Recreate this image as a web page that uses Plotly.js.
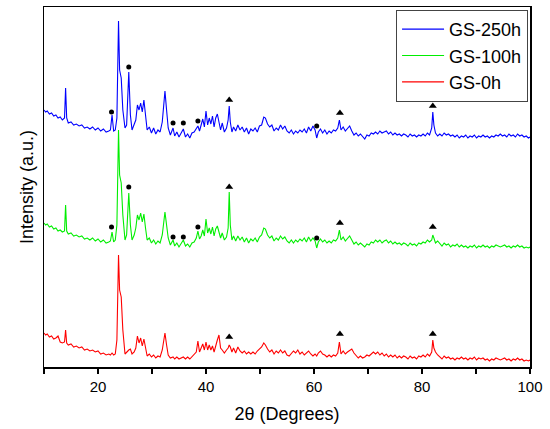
<!DOCTYPE html>
<html>
<head>
<meta charset="utf-8">
<script src="https://cdn.plot.ly/plotly-3.0.1.min.js"></script>
<style>html,body{margin:0;padding:0;background:#fff;}#chart{width:550px;height:429px;}</style>
</head>
<body>
<div id="chart"></div>
<script>
// 2θ (degrees), shared by all three patterns
const twoTheta = [
  10,10.3,10.6,11,11.4,11.8,12.2,12.6,13,13.4,
  13.8,14.0,14.2,14.5,15,15.5,16,16.5,17,17.5,
  18,18.5,19,19.5,20,20.5,21,21.5,22,22.3,
  22.6,22.9,23.2,23.5,23.8,24.0,24.3,24.6,25.0,25.3,
  25.7,26.0,26.3,26.7,27.0,27.3,27.6,27.9,28.2,28.5,
  28.8,29.1,29.5,29.9,30.3,30.7,31.1,31.5,31.9,32.2,
  32.4,32.7,33.0,33.4,33.9,34.2,34.6,35.0,35.4,35.8,
  36.2,36.6,37.0,37.4,37.8,38.2,38.5,38.8,39.1,39.4,
  39.7,40.0,40.3,40.6,40.9,41.2,41.5,41.8,42.1,42.4,
  42.7,43.0,43.4,43.8,44.1,44.3,44.5,44.8,45.1,45.5,
  45.9,46.3,46.7,47.1,47.5,47.9,48.3,48.7,49.1,49.5,
  49.9,50.3,50.7,51.0,51.4,51.8,52.2,52.6,53.0,53.4,
  53.8,54.2,54.6,55.0,55.4,55.8,56.2,56.6,57.0,57.4,
  57.8,58.2,58.6,59.0,59.4,59.8,60.2,60.5,60.8,61.2,
  61.6,62.0,62.4,62.8,63.2,63.6,64.0,64.4,64.7,65.0,
  65.4,65.8,66.2,66.6,67.0,67.4,67.8,68.2,68.6,69.0,
  69.4,69.8,70.2,70.6,71.0,71.4,71.8,72.2,72.6,73.0,
  73.4,73.8,74.2,74.6,75.0,75.4,75.8,76.2,76.6,77.0,
  77.4,77.8,78.2,78.6,79.0,79.4,79.8,80.2,80.6,81.0,
  81.4,81.8,82.0,82.2,82.5,82.9,
  83.3,83.7,84.1,84.5,84.9,85.3,85.7,86.1,86.5,86.9,
  87.3,87.7,88.1,88.5,88.9,89.3,89.7,90.1,90.5,90.9,
  91.3,91.7,92.1,92.5,92.9,93.3,93.7,94.1,94.5,94.9,
  95.3,95.7,96.1,96.5,96.9,97.3,97.7,98.1,98.5,98.9,
  99.3,99.7,100
];

const gs250h = [
  257,255,256,253,254,251,252,249,250,247,
  249,279,249,244,245,242,243,241,242,239,
  240,238,240,237,239,236,238,235,236,237,
  252,236,237,249,346,297,289,257,239,242,
  295,252,237,242,247,262,257,264,255,267,
  249,237,240,234,239,233,237,235,245,267,
  276,257,239,232,239,231,235,230,234,238,
  230,233,229,234,235,239,241,236,242,248,
  240,256,242,249,243,251,240,249,253,243,
  237,244,235,239,247,261,245,235,240,236,
  242,237,240,235,239,233,238,236,239,235,
  241,242,250,249,243,240,242,236,239,237,
  242,238,241,236,234,237,233,236,234,237,
  235,238,234,240,236,241,237,229,235,238,
  234,237,233,236,234,237,236,239,247,237,
  240,236,238,241,236,232,234,231,233,230,
  228,232,231,234,233,235,233,236,234,235,
  236,233,235,232,234,232,233,231,233,232,
  230,233,231,232,230,232,231,233,231,234,
  232,239,255,242,234,231,
  233,231,234,232,233,231,232,230,232,229,
  231,230,232,229,231,230,232,229,231,230,
  232,230,231,229,231,230,232,231,233,231,
  232,230,233,231,232,230,233,231,232,230,
  231,229,230
];

const gs100h = [
  144,142,143,140,141,138,139,136,137,135,
  136,162,136,133,134,131,132,130,131,128,
  129,127,129,126,128,125,127,124,125,126,
  135,125,127,142,237,192,184,152,127,132,
  174,142,127,132,139,152,147,154,145,153,
  139,127,129,124,127,123,126,124,132,149,
  155,142,129,122,127,121,124,120,123,127,
  121,123,120,124,125,129,136,128,131,137,
  131,148,134,139,133,140,131,138,141,134,
  129,134,127,130,139,175,142,127,131,126,
  131,127,130,125,129,124,128,126,129,125,
  130,132,139,138,132,129,131,126,129,127,
  131,128,130,126,124,127,124,127,125,128,
  126,129,125,130,126,129,126,119,125,128,
  125,127,124,126,124,127,126,129,137,127,
  130,126,128,131,127,123,125,122,124,122,
  120,123,122,125,124,127,125,127,124,126,
  127,124,126,123,125,123,124,122,124,123,
  121,124,122,123,121,124,123,125,124,127,
  125,127,132,129,124,126,
  123,121,124,122,123,120,122,121,123,120,
  122,120,121,119,121,120,122,119,121,120,
  122,120,121,119,121,120,122,121,120,121,
  122,120,121,119,121,120,122,120,121,119,
  120,119,120
];

const gs0h = [
  34,32,33,30,31,28,29,31,25,24,
  25,37,24,22,23,20,21,19,20,17,
  18,16,17,15,16,13,14,12,13,12,
  14,12,13,27,112,77,70,37,13,15,
  17,18,13,15,19,31,24,29,21,28,
  19,11,13,10,12,9,11,10,17,30,
  34,22,12,9,10,8,10,8,9,10,
  8,10,8,10,12,15,26,15,19,23,
  17,25,17,22,17,21,15,22,27,32,
  19,17,14,17,19,22,20,15,19,14,
  20,16,14,16,13,15,13,15,13,16,
  18,20,24,22,18,15,17,13,16,14,
  17,14,16,12,11,14,16,14,17,13,
  15,12,14,16,13,11,13,11,14,16,
  13,12,10,12,10,12,11,14,25,13,
  16,13,15,17,18,14,11,9,11,9,
  10,12,11,13,15,13,15,12,14,11,
  13,10,12,10,12,9,11,9,11,10,
  8,11,9,10,8,11,10,12,10,13,
  11,15,27,19,15,12,
  10,8,11,9,10,8,9,7,9,8,
  10,8,9,7,9,8,10,7,9,8,
  9,7,8,6,8,7,9,8,7,8,
  9,7,8,6,8,7,9,7,8,6,
  7,6,7
];

// Phase markers: dots (●) and triangles (▲)
const dotX = [22.5, 25.7, 33.9, 35.8, 38.5, 60.5,   22.5, 25.7, 33.9, 35.8, 38.5, 60.5];
const dotY = [255, 300, 244, 244, 246, 241,          140, 180, 130, 130, 140, 129];
const triX = [44.3, 64.8, 82.0,  44.3, 64.8, 82.0,  44.3, 64.8, 82.0];
const triY = [267, 254, 261,     180, 144, 140,     30, 33, 33];

const seriesNames = ['GS-250h', 'GS-100h', 'GS-0h'];
const seriesColors = ['#0000ff', '#00ee00', '#ff0000'];
const seriesData = [gs250h, gs100h, gs0h];

const FONT = 'Arial, "Liberation Sans", sans-serif';

const traces = seriesData.map((ys, i) => ({
  type: 'scatter', mode: 'lines', name: seriesNames[i],
  x: twoTheta, y: ys,
  line: {color: seriesColors[i], width: 1.1}
}));
traces.push({
  type: 'scatter', mode: 'markers', x: dotX, y: dotY, showlegend: false,
  marker: {symbol: 'circle', size: 5, color: '#000'}
});
traces.push({
  type: 'scatter', mode: 'markers', x: triX, y: triY, showlegend: false,
  marker: {symbol: 'triangle-up', size: 7, color: '#000'}
});

const layout = {
  width: 550, height: 429,
  margin: {l: 44, r: 20, t: 7, b: 62},
  paper_bgcolor: '#fff', plot_bgcolor: '#fff',
  font: {family: FONT, color: '#000', size: 15},
  showlegend: true,
  legend: {
    x: 0.996, xanchor: 'right', y: 0.992, yanchor: 'top',
    bordercolor: '#444', borderwidth: 1, bgcolor: '#fff',
    font: {family: FONT, size: 18, color: '#000'},
    itemwidth: 42, tracegroupgap: 0
  },
  xaxis: {
    range: [10, 100], tick0: 0, dtick: 20,
    ticks: 'outside', ticklen: 5, tickwidth: 1.3, tickcolor: '#000',
    minor: {dtick: 10, ticks: 'outside', ticklen: 5, tickwidth: 1.3, tickcolor: '#000'},
    showline: true, linecolor: '#000', linewidth: 1.5, mirror: true,
    showgrid: false, zeroline: false,
    tickfont: {family: FONT, size: 15, color: '#000'},
    title: {text: '2θ (Degrees)', font: {family: FONT, size: 18, color: '#000'}, standoff: 14}
  },
  yaxis: {
    range: [0, 360], showticklabels: false, ticks: '',
    showline: true, linecolor: '#000', linewidth: 1.5, mirror: true,
    showgrid: false, zeroline: false,
    title: {text: 'Intensity (a.u.)', font: {family: FONT, size: 18, color: '#000'}, standoff: 4}
  }
};

Plotly.newPlot('chart', traces, layout, {displayModeBar: false, staticPlot: true});
</script>
</body>
</html>
